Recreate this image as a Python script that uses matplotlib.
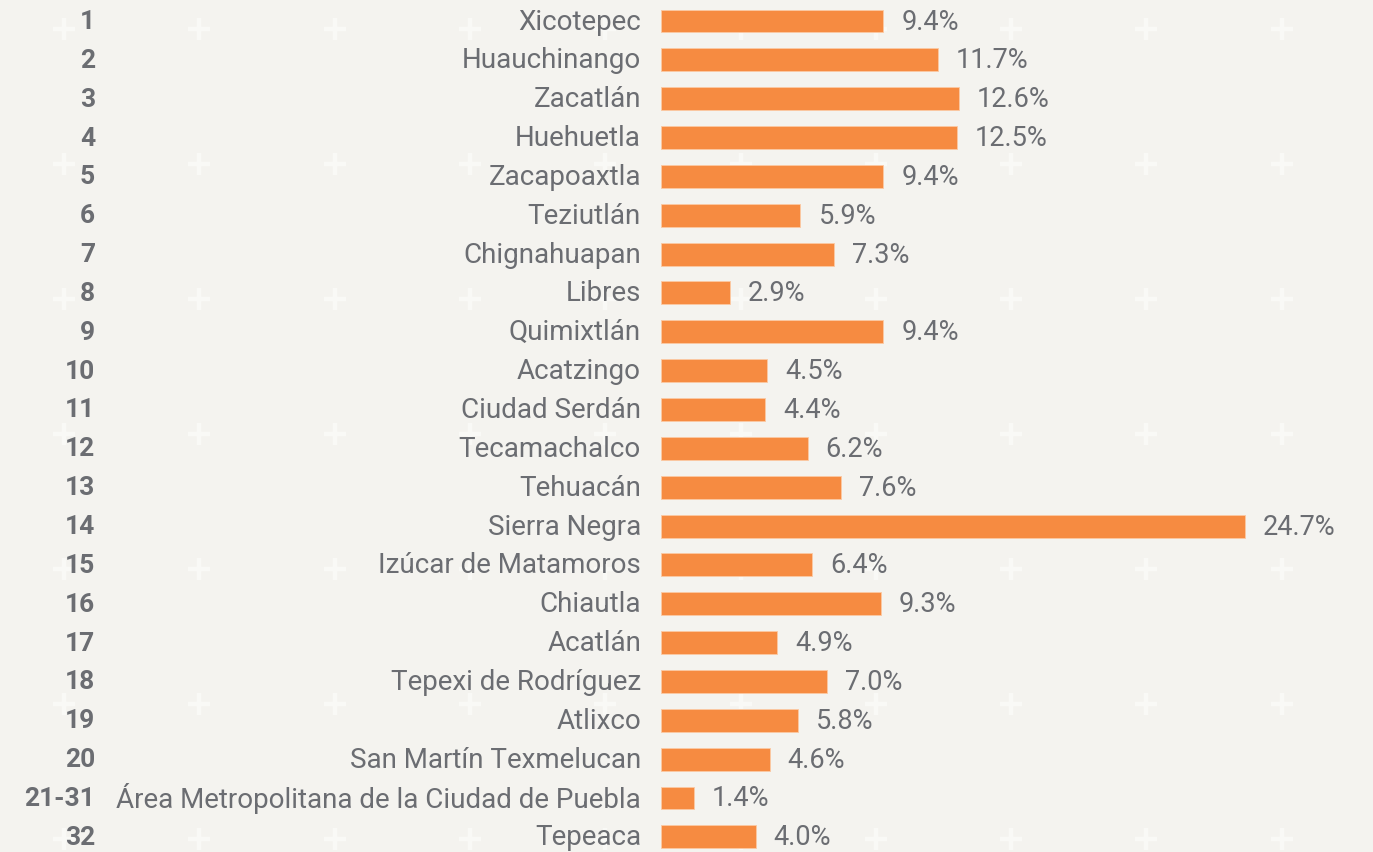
import matplotlib
matplotlib.use('Agg')
import matplotlib.pyplot as plt
import numpy as np

# ranking, region and share (%)
ranks = ['1', '2', '3', '4', '5', '6', '7', '8', '9', '10', '11', '12', '13', '14',
         '15', '16', '17', '18', '19', '20', '21-31', '32']
regions = ['Xicotepec', 'Huauchinango', 'Zacatlán', 'Huehuetla', 'Zacapoaxtla',
           'Teziutlán', 'Chignahuapan', 'Libres', 'Quimixtlán', 'Acatzingo',
           'Ciudad Serdán', 'Tecamachalco', 'Tehuacán', 'Sierra Negra',
           'Izúcar de Matamoros', 'Chiautla', 'Acatlán', 'Tepexi de Rodríguez',
           'Atlixco', 'San Martín Texmelucan',
           'Área Metropolitana de la Ciudad de Puebla', 'Tepeaca']
values = [9.4, 11.7, 12.6, 12.5, 9.4, 5.9, 7.3, 2.9, 9.4, 4.5, 4.4, 6.2, 7.6, 24.7,
          6.4, 9.3, 4.9, 7.0, 5.8, 4.6, 1.4, 4.0]

BG = '#f4f3ef'
BAR = '#f68b41'
TXT = '#6b6d72'
W, H = 1373, 853

plt.rcParams['font.family'] = ['Roboto', 'DejaVu Sans']

fig = plt.figure(figsize=(W / 100, H / 100), dpi=100, facecolor=BG)

# background "+" pattern
bg = fig.add_axes([0, 0, 1, 1], zorder=-1)
bg.set_facecolor(BG)
bg.axis('off')
bg.set_xlim(0, W)
bg.set_ylim(H, 0)
px, py = np.meshgrid(np.arange(64, W, 135.3), np.arange(30, H, 135))
bg.scatter(px.ravel(), py.ravel(), marker='+', s=260, linewidths=3.2, color='#f9f9f6')

ax = fig.add_axes([0, 0, 1, 1])
ax.patch.set_alpha(0)
ax.axis('off')

x0_px = 661
scale = (1245 - x0_px) / 24.7
ax.set_xlim(-x0_px / scale, (W - x0_px) / scale)
step = 38.85
top = 22
ax.set_ylim((H - top) / step, -top / step)

y = np.arange(len(values))
ax.barh(y, values, height=0.59, color=BAR, edgecolor='#fbc9a3', linewidth=0.6)

trans = ax.get_yaxis_transform()
for i, (r, name, v) in enumerate(zip(ranks, regions, values)):
    ax.text(95 / W, i, r, transform=trans, ha='right', va='center',
            fontsize=19, fontweight='bold', color=TXT)
    ax.text(641 / W, i, name, transform=trans, ha='right', va='center',
            fontsize=20, color=TXT)
    ax.annotate(f'{v:.1f}%', (v, i), xytext=(18, 0), textcoords='offset pixels',
                ha='left', va='center', fontsize=19.5, color=TXT)

fig.savefig('out.png', dpi=100, facecolor=BG)
